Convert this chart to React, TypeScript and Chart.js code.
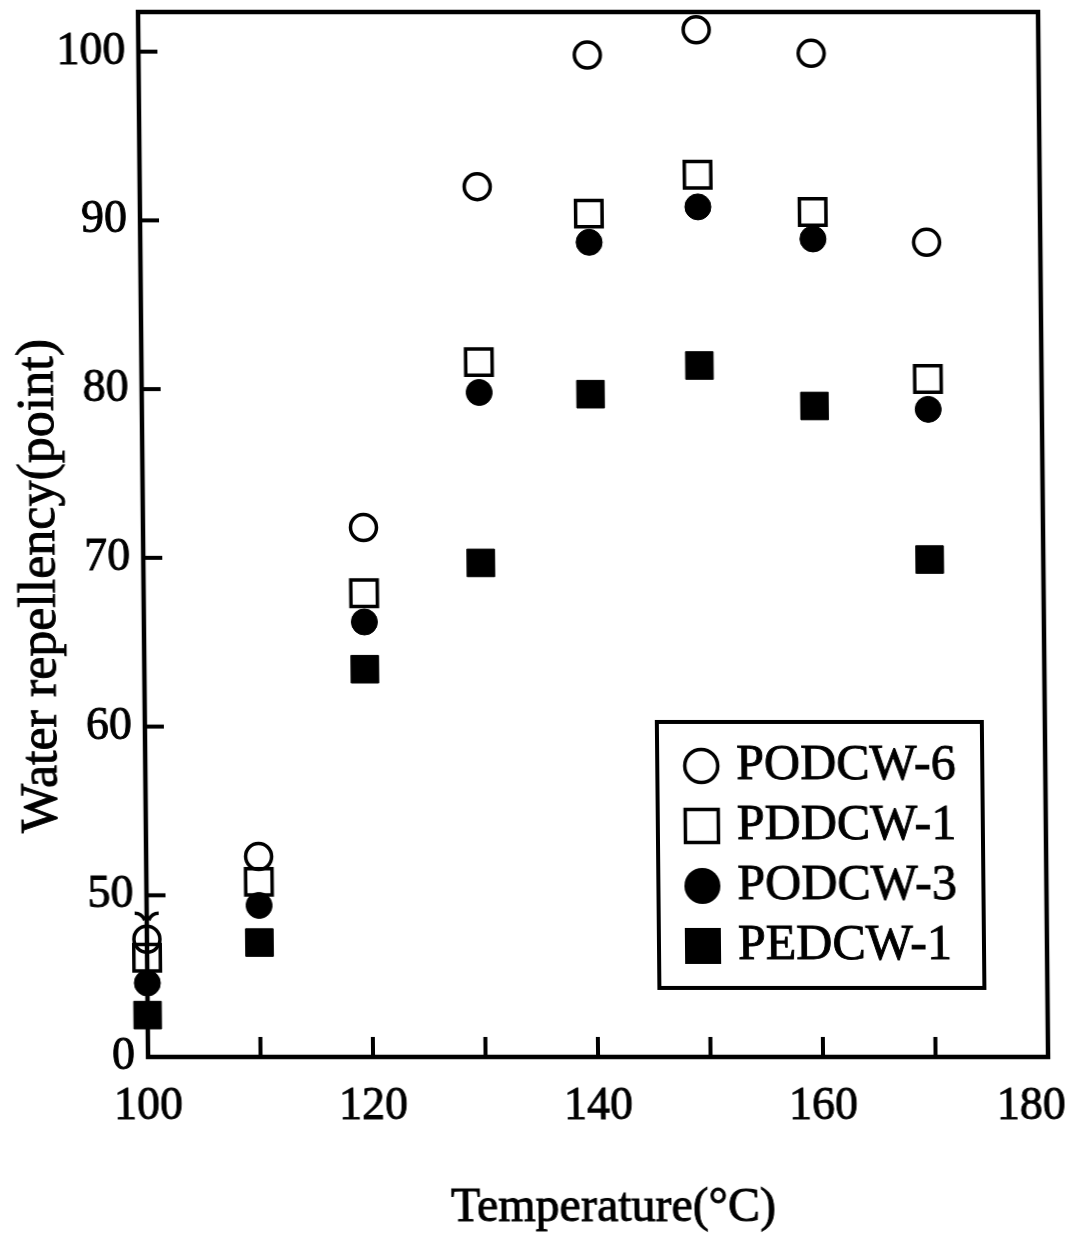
import React, { useEffect, useRef } from 'react';
import { Chart, registerables } from 'chart.js';

Chart.register(...registerables);

// ---- data ----
const temperatures = [100, 110, 119.6, 130, 139.9, 149.6, 159.8, 169.9];
const podcw6 = [47.4, 52.3, 71.8, 92.0, 99.8, 101.3, 99.9, 88.7];
const pddcw1 = [46.3, 50.8, 67.9, 81.6, 90.4, 92.7, 90.5, 80.6];
const podcw3 = [44.8, 49.4, 66.2, 79.8, 88.7, 90.8, 88.9, 78.8];
const pedcw1 = [42.9, 47.2, 63.4, 69.7, 79.7, 81.4, 79.0, 69.9];
const seriesNames = ['PODCW-6', 'PDDCW-1', 'PODCW-3', 'PEDCW-1'];

const xTickValues = [100, 110, 120, 130, 140, 150, 160, 170, 180];
const xTickLabels: Record<number, string> = { 100: '100', 120: '120', 140: '140', 160: '160', 180: '180   ' };
const yTickValues = [50, 60, 70, 80, 90, 100];
const yAxisMin = 40.42;
const yAxisMax = 102.35;
const yBreakValue = 48.7;
const yBreakLabel = '0';
const xTitle = 'Temperature(°C)';
const yTitle = 'Water repellency(point)';

const FONT = '"Liberation Serif", "Times New Roman", serif';
const INK = '#000';

function heavyText(ctx: CanvasRenderingContext2D, text: string, x: number, y: number) {
  ctx.lineWidth = 0.9;
  ctx.strokeStyle = INK;
  ctx.strokeText(text, x, y);
  ctx.fillText(text, x, y);
}

const framePlugin = {
  id: 'frame',
  beforeDatasetsDraw(chart: any) {
    const { ctx, chartArea } = chart;
    const { left, right, top, bottom } = chartArea;
    const xs = chart.scales.x;
    const ys = chart.scales.y;
    ctx.save();
    ctx.strokeStyle = INK;
    ctx.lineWidth = 4.5;
    ctx.lineCap = 'square';
    ctx.strokeRect(left, top, right - left, bottom - top);
    ctx.lineWidth = 4;
    ctx.lineCap = 'butt';
    yTickValues.forEach((v) => {
      const y = ys.getPixelForValue(v);
      ctx.beginPath();
      ctx.moveTo(left, y);
      ctx.lineTo(left + 19, y);
      ctx.stroke();
    });
    xTickValues.filter((v) => v > 100 && v < 180).forEach((v) => {
      const x = xs.getPixelForValue(v);
      ctx.beginPath();
      ctx.moveTo(x, bottom);
      ctx.lineTo(x, bottom - 20);
      ctx.stroke();
    });
    // axis break mark
    const yb = ys.getPixelForValue(yBreakValue);
    ctx.lineWidth = 3.5;
    ctx.beginPath();
    ctx.moveTo(left - 12, yb - 4);
    ctx.quadraticCurveTo(left - 5, yb - 4, left - 2, yb + 3);
    ctx.moveTo(left + 2, yb + 3);
    ctx.quadraticCurveTo(left + 5, yb - 4, left + 12, yb - 4);
    ctx.stroke();
    ctx.restore();
  },
  afterDatasetsDraw(chart: any) {
    const { ctx } = chart;
    ctx.save();
    // legend
    const bx = 655, by = 722, bw = 325, bh = 266;
    ctx.strokeStyle = INK;
    ctx.lineWidth = 4;
    ctx.strokeRect(bx, by, bw, bh);
    ctx.font = `50px ${FONT}`;
    ctx.fillStyle = INK;
    ctx.textAlign = 'left';
    ctx.textBaseline = 'middle';
    chart.data.datasets.forEach((ds: any, i: number) => {
      const cy = 766 + i * 60;
      const cx = 699;
      ctx.lineWidth = 3.5;
      ctx.strokeStyle = INK;
      ctx.fillStyle = INK;
      const filled = ds.backgroundColor !== 'rgba(0,0,0,0)';
      ctx.beginPath();
      if (ds.pointStyle === 'circle') {
        ctx.arc(cx, cy, filled ? 18 : 16.5, 0, Math.PI * 2);
      } else {
        const h = filled ? 18 : 16.5;
        ctx.rect(cx - h, cy - h, 2 * h, 2 * h);
      }
      if (filled) ctx.fill(); else ctx.stroke();
      ctx.fillStyle = INK;
      heavyText(ctx, ds.label, 734, cy);
    });
    // axis titles
    ctx.textAlign = 'center';
    ctx.textBaseline = 'middle';
    ctx.font = `48px ${FONT}`;
    heavyText(ctx, xTitle, 607, 1208);
    ctx.font = `52px ${FONT}`;
    ctx.translate(40, 586);
    ctx.rotate(-Math.PI / 2);
    heavyText(ctx, yTitle, 0, 0);
    ctx.restore();
  },
};

function makeData(values: number[]) {
  return temperatures.map((t, i) => ({ x: t, y: values[i] }));
}

export default function App() {
  const ref = useRef<HTMLCanvasElement>(null);
  useEffect(() => {
    if (!ref.current) return;
    const tickFont = { family: FONT, size: 46 };
    const chart = new Chart(ref.current, {
      type: 'scatter',
      data: {
        datasets: [
          { label: seriesNames[0], data: makeData(podcw6), pointStyle: 'circle', pointRadius: 13, borderWidth: 3.5, borderColor: INK, backgroundColor: 'rgba(0,0,0,0)', clip: false },
          { label: seriesNames[1], data: makeData(pddcw1), pointStyle: 'rect', pointRadius: 18.7, borderWidth: 3.5, borderColor: INK, backgroundColor: 'rgba(0,0,0,0)', clip: false },
          { label: seriesNames[2], data: makeData(podcw3), pointStyle: 'circle', pointRadius: 13, borderWidth: 1, borderColor: INK, backgroundColor: INK, clip: false },
          { label: seriesNames[3], data: makeData(pedcw1), pointStyle: 'rect', pointRadius: 19.5, borderWidth: 1, borderColor: INK, backgroundColor: INK, clip: false },
        ] as any,
      },
      options: {
        animation: false,
        responsive: false,
        devicePixelRatio: 1,
        layout: { autoPadding: false, padding: { left: 0, right: 24, top: 12, bottom: 0 } },
        plugins: { legend: { display: false }, tooltip: { enabled: false } },
        scales: {
          x: {
            type: 'linear',
            min: 100,
            max: 180,
            afterBuildTicks: (s: any) => { s.ticks = xTickValues.map((v) => ({ value: v })); },
            afterFit: (s: any) => { s.height = 179; s.paddingLeft = 0; s.paddingRight = 0; },
            ticks: {
              autoSkip: false,
              maxRotation: 0,
              minRotation: 0,
              padding: 22,
              color: INK,
              font: tickFont,
              textStrokeColor: INK,
              textStrokeWidth: 0.9,
              callback: (v: any) => xTickLabels[v as number] ?? '',
            },
            grid: { display: false, drawTicks: false },
            border: { display: false },
          },
          y: {
            type: 'linear',
            min: yAxisMin,
            max: yAxisMax,
            afterBuildTicks: (s: any) => { s.ticks = [yAxisMin, ...yTickValues].map((v) => ({ value: v })); },
            afterFit: (s: any) => { s.width = 143; s.paddingTop = 0; s.paddingBottom = 0; },
            ticks: {
              padding: 13,
              color: INK,
              font: tickFont,
              textStrokeColor: INK,
              textStrokeWidth: 0.9,
              callback: (v: any) => ((v as number) < 45 ? yBreakLabel : String(v)),
            },
            grid: { display: false, drawTicks: false },
            border: { display: false },
          },
        },
      } as any,
      plugins: [framePlugin],
    });
    return () => chart.destroy();
  }, []);

  return (
    <div style={{ position: 'absolute', left: 0, top: 0, width: 1067, height: 1236, overflow: 'hidden', background: '#fff' }}>
      <canvas
        ref={ref}
        width={1067}
        height={1236}
        style={{ display: 'block', width: 1067, height: 1236, transform: 'skewX(0.55deg)', transformOrigin: '0px 530px' }}
      />
    </div>
  );
}
